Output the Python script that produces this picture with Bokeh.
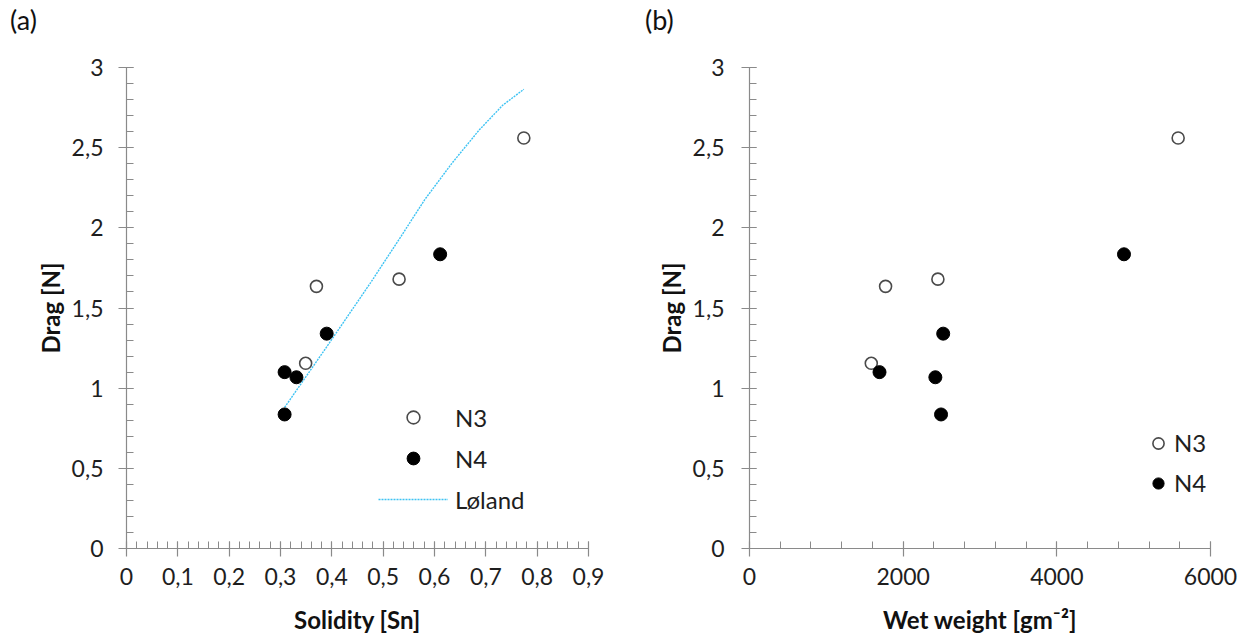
from bokeh.plotting import figure
from bokeh.layouts import row, column
from bokeh.models import (Range1d, FixedTicker, CustomJSTickFormatter, Legend,
                          LegendItem, ColumnDataSource, Div)
from bokeh.embed import file_html
from bokeh.resources import INLINE

# ---------------- data ----------------
n3_solidity = [0.774, 0.370, 0.531, 0.349]
n3_wet_weight = [5579, 1771, 2452, 1585]
n3_drag = [2.56, 1.635, 1.68, 1.155]

n4_solidity = [0.611, 0.390, 0.308, 0.331, 0.308]
n4_wet_weight = [4874, 2521, 1692, 2419, 2493]
n4_drag = [1.835, 1.34, 1.10, 1.068, 0.836]

loland_solidity = [0.308, 0.392, 0.476, 0.529, 0.581, 0.634, 0.687, 0.733, 0.774]
loland_drag = [0.880, 1.267, 1.660, 1.918, 2.176, 2.403, 2.610, 2.765, 2.864]

drag_major_ticks = [0, 0.5, 1, 1.5, 2, 2.5, 3]
drag_minor_ticks = [round(i * 0.1, 2) for i in range(31)]
solidity_major_ticks = [0, 0.1, 0.2, 0.3, 0.4, 0.5, 0.6, 0.7, 0.8, 0.9]
solidity_minor_ticks = [round(i * 0.02, 2) for i in range(46)]
wet_major_ticks = [0, 2000, 4000, 6000]
wet_minor_ticks = [i * 400 for i in range(16)]

FONT = "Lato"
TEXT = "#1e1e1e"
AXIS = "#8a8a8a"
HEAD = 44                # height of the "(a)"/"(b)" caption strip
HEIGHT = 636 - HEAD      # figure height
FRAME_TOP = 67           # page y of the value 3
FRAME_BOTTOM = 550       # page y of the value 0

fmt = CustomJSTickFormatter(code="""
var v = Math.round(tick*1000)/1000;
return String(v).replace('.', ',');
""")


def caption(text, width, pad):
    css = {"font-family": "Lato, sans-serif", "font-size": "27px", "line-height": "40px",
           "padding-left": "%dpx" % pad, "color": "#111111", "white-space": "nowrap"}
    return Div(text=('<span style="font-family:Lato, sans-serif;font-size:27px;'
                     'line-height:40px;color:#111111">%s</span>' % text),
               width=width, height=HEAD, margin=0, styles=css)


def make_fig(width, b_left, b_right, x_end, xlabel, xmaj, xmin, tick_standoff_y):
    p = figure(width=width, height=HEIGHT, x_range=Range1d(0, x_end), y_range=Range1d(0, 3),
               output_backend="svg", toolbar_location=None,
               min_border_left=b_left, min_border_right=b_right,
               min_border_top=FRAME_TOP - HEAD,
               min_border_bottom=HEIGHT - (FRAME_BOTTOM - HEAD))
    p.outline_line_color = None
    p.xgrid.visible = False
    p.ygrid.visible = False
    p.background_fill_color = "white"
    p.border_fill_color = "white"
    p.xaxis.ticker = FixedTicker(ticks=xmaj, minor_ticks=xmin)
    p.yaxis.ticker = FixedTicker(ticks=drag_major_ticks, minor_ticks=drag_minor_ticks)
    p.xaxis.axis_label = xlabel
    p.yaxis.axis_label = "Drag [N]"
    for ax in (p.xaxis[0], p.yaxis[0]):
        ax.formatter = fmt
        ax.axis_line_color = AXIS
        ax.axis_line_width = 1.2
        ax.major_tick_line_color = AXIS
        ax.minor_tick_line_color = AXIS
        ax.major_tick_line_width = 1.2
        ax.minor_tick_line_width = 1
        ax.major_tick_in = 7
        ax.major_tick_out = 8
        ax.minor_tick_in = 7
        ax.minor_tick_out = 0
        ax.major_label_text_font = FONT
        ax.major_label_text_font_size = "23px"
        ax.major_label_text_color = TEXT
        ax.axis_label_text_font = FONT
        ax.axis_label_text_font_size = "24px"
        ax.axis_label_text_font_style = "bold"
        ax.axis_label_text_color = "#111111"
    p.xaxis.major_label_standoff = 11
    p.xaxis.axis_label_standoff = 17
    p.yaxis.major_label_standoff = tick_standoff_y
    p.yaxis.axis_label_standoff = 4
    return p


# ---------------- panel (a) ----------------
pa = make_fig(640, 126, 52, 0.9, "Solidity [Sn]", solidity_major_ticks,
              solidity_minor_ticks, 15)
src_a3 = ColumnDataSource(dict(x=n3_solidity, y=n3_drag))
src_a4 = ColumnDataSource(dict(x=n4_solidity, y=n4_drag))
src_l = ColumnDataSource(dict(x=loland_solidity, y=loland_drag))
rl = pa.line("x", "y", source=src_l, line_color="#3ec3f3", line_width=1.4, line_dash="2 1")
ra3 = pa.scatter("x", "y", source=src_a3, marker="circle", size=12,
                 fill_color="white", line_color="#4a4a4a", line_width=1.6)
ra4 = pa.scatter("x", "y", source=src_a4, marker="circle", size=13,
                 fill_color="black", line_color="black", line_width=1)
leg_a = Legend(items=[LegendItem(label="N3", renderers=[ra3]),
                      LegendItem(label="N4", renderers=[ra4]),
                      LegendItem(label="Løland", renderers=[rl])],
               location=(252, 33), glyph_width=70, glyph_height=32, label_height=32,
               spacing=9, padding=0, margin=0, label_standoff=7,
               border_line_color=None, background_fill_alpha=0,
               label_text_font=FONT, label_text_font_size="24px", label_text_color=TEXT)
pa.add_layout(leg_a, "center")

# ---------------- panel (b) ----------------
pb = make_fig(608, 109, 38, 6000, "Wet weight [gm⁻²]", wet_major_ticks,
              wet_minor_ticks, 17)
src_b3 = ColumnDataSource(dict(x=n3_wet_weight, y=n3_drag))
src_b4 = ColumnDataSource(dict(x=n4_wet_weight, y=n4_drag))
rb3 = pb.scatter("x", "y", source=src_b3, marker="circle", size=12,
                 fill_color="white", line_color="#4a4a4a", line_width=1.6)
rb4 = pb.scatter("x", "y", source=src_b4, marker="circle", size=13,
                 fill_color="black", line_color="black", line_width=1)
leg_b = Legend(items=[LegendItem(label="N3", renderers=[rb3]),
                      LegendItem(label="N4", renderers=[rb4])],
               location=(395, 51), glyph_width=28, glyph_height=28, label_height=28,
               spacing=11, padding=0, margin=0, label_standoff=2,
               border_line_color=None, background_fill_alpha=0,
               label_text_font=FONT, label_text_font_size="24px", label_text_color=TEXT)
pb.add_layout(leg_b, "center")

layout = row(column(caption("(a)", 640, 10), pa, spacing=0),
             column(caption("(b)", 608, 5), pb, spacing=0), spacing=0)
open("out.html", "w").write(file_html(layout, INLINE))
